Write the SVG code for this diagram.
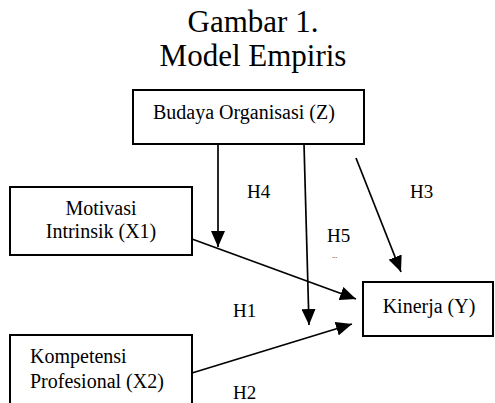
<svg xmlns="http://www.w3.org/2000/svg" width="495" height="403" viewBox="0 0 495 403">
<defs>
<style>
.t{font-family:"Liberation Serif","Times New Roman",serif;fill:#000}
.box{fill:#fff;stroke:#000;stroke-width:2}
.c{stroke:#000;stroke-width:1.7;fill:none}
</style>
<marker id="ah" viewBox="0 0 16 14" markerWidth="16" markerHeight="14" refX="16" refY="7" orient="auto" markerUnits="userSpaceOnUse">
<path d="M0,0 L16,7 L0,14 z" fill="#000"/>
</marker>
</defs>
<rect width="495" height="403" fill="#fff"/>
<g id="title">
<text class="t" x="253" y="32" font-size="31" text-anchor="middle">Gambar 1.</text>
<text class="t" x="253" y="66" font-size="31" text-anchor="middle">Model Empiris</text>
</g>
<g id="connectors">
<line class="c" x1="218" y1="144" x2="218" y2="247" marker-end="url(#ah)"/>
<line class="c" x1="304" y1="144" x2="309" y2="325" marker-end="url(#ah)"/>
<line class="c" x1="356" y1="158" x2="401" y2="272" marker-end="url(#ah)"/>
<line class="c" x1="192" y1="239" x2="356" y2="299" marker-end="url(#ah)"/>
<line class="c" x1="192" y1="373" x2="352" y2="324" marker-end="url(#ah)"/>
</g>
<g id="labels">
<text class="t" x="247" y="198" font-size="19">H4</text>
<text class="t" x="410" y="198" font-size="19">H3</text>
<text class="t" x="327" y="242" font-size="19">H5</text>
<text class="t" x="332" y="258" font-size="7" fill="#666">...</text>
<text class="t" x="233" y="317" font-size="19">H1</text>
<text class="t" x="233" y="399" font-size="19">H2</text>
</g>
<g id="budaya">
<rect class="box" x="133" y="90" width="231" height="54"/>
<text class="t" x="153" y="119" font-size="20">Budaya Organisasi (Z)</text>
</g>
<g id="motivasi">
<rect class="box" x="10" y="187" width="182" height="68"/>
<text class="t" x="101" y="215" font-size="20" text-anchor="middle">Motivasi</text>
<text class="t" x="101" y="238" font-size="20" text-anchor="middle">Intrinsik (X1)</text>
</g>
<g id="kinerja">
<rect class="box" x="363" y="282" width="130" height="54"/>
<text class="t" x="429" y="313" font-size="20" text-anchor="middle">Kinerja (Y)</text>
</g>
<g id="kompetensi">
<rect class="box" x="10" y="335" width="182" height="80"/>
<text class="t" x="30" y="363" font-size="20">Kompetensi</text>
<text class="t" x="30" y="388" font-size="20">Profesional (X2)</text>
</g>
</svg>
